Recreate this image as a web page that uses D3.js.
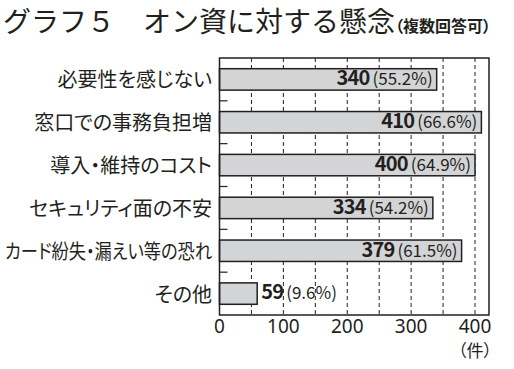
<!DOCTYPE html>
<html>
<head>
<meta charset="utf-8">
<script src="https://cdn.jsdelivr.net/npm/d3@7"></script>
<style>
  body { margin: 0; background: #fff; }
  svg text { font-family: "Noto Sans CJK JP", "Noto Sans", sans-serif; fill: #231f20; }
</style>
</head>
<body>
<svg id="chart" width="514" height="369"></svg>
<script>
// data
const categories = ['必要性を感じない', '窓口での事務負担増', '導入・維持のコスト', 'セキュリティ面の不安', 'カード紛失・漏えい等の恐れ', 'その他'];
const counts = [340, 410, 400, 334, 379, 59];
const percents = ['55.2%', '66.6%', '64.9%', '54.2%', '61.5%', '9.6%'];
const xTicks = [0, 100, 200, 300, 400];
const gridValues = [50, 100, 150, 200, 250, 300, 350, 400];

const svg = d3.select('#chart');
const ink = '#231f20';

const plotLeft = 219.5, plotRight = 489, plotTop = 58, plotBottom = 315;
const labelRight = 212, labelMaxWidth = 207;

const x = d3.scaleLinear().domain([0, 400]).range([plotLeft, 475]);
const y = d3.scaleBand().domain(categories).range([plotTop, plotBottom]).paddingInner(0.5).paddingOuter(0.25);
const band = d3.scaleBand().domain(categories).range([plotTop, plotBottom]);

// title
const title = svg.append('text')
    .attr('x', 3)
    .attr('y', 32)
    .style('font-size', '28px')
    .style('font-weight', 400);
title.append('tspan').text('グラフ５　オン資に対する懸念');
title.append('tspan').text('（複数回答可）')
    .style('font-size', '16px')
    .style('font-weight', 700)
    .style('font-feature-settings', '"palt"');

// dashed grid
svg.append('g')
    .selectAll('line')
    .data(gridValues)
    .enter().append('line')
    .attr('x1', d => x(d)).attr('x2', d => x(d))
    .attr('y1', plotTop).attr('y2', plotBottom)
    .attr('stroke', ink)
    .attr('stroke-width', 1)
    .attr('stroke-dasharray', '4,3');

// small ticks between categories on left axis
svg.append('g')
    .selectAll('line')
    .data(categories.slice(1))
    .enter().append('line')
    .attr('x1', plotLeft).attr('x2', plotLeft + 8)
    .attr('y1', d => band(d)).attr('y2', d => band(d))
    .attr('stroke', ink)
    .attr('stroke-width', 1.2);

// bars
svg.append('g')
    .selectAll('rect')
    .data(counts)
    .enter().append('rect')
    .attr('x', plotLeft)
    .attr('y', (d, i) => y(categories[i]))
    .attr('width', d => x(d) - plotLeft)
    .attr('height', y.bandwidth())
    .attr('fill', '#d3d4d5')
    .attr('stroke', ink)
    .attr('stroke-width', 1.5);

// frame
svg.append('rect')
    .attr('x', plotLeft).attr('y', plotTop)
    .attr('width', plotRight - plotLeft).attr('height', plotBottom - plotTop)
    .attr('fill', 'none')
    .attr('stroke', ink)
    .attr('stroke-width', 1.5);

// category labels
svg.append('g')
    .selectAll('text')
    .data(categories)
    .enter().append('text')
    .attr('x', labelRight)
    .attr('y', d => band(d) + band.bandwidth() / 2)
    .attr('dy', '0.4em')
    .attr('text-anchor', 'end')
    .style('font-size', '20px')
    .style('font-feature-settings', '"palt"')
    .text(d => d)
    .each(function() {
        // squeeze the long one so it fits like the original
        if (this.getComputedTextLength() > labelMaxWidth) {
            d3.select(this)
                .attr('textLength', labelMaxWidth)
                .attr('lengthAdjust', 'spacingAndGlyphs');
        }
    });

// value labels
const vl = svg.append('g')
    .selectAll('text')
    .data(counts)
    .enter().append('text')
    .attr('x', d => d < 100 ? x(d) + 4 : x(d) - 4)
    .attr('y', (d, i) => band(categories[i]) + band.bandwidth() / 2)
    .attr('dy', '0.36em')
    .attr('text-anchor', d => d < 100 ? 'start' : 'end');
vl.append('tspan')
    .text(d => d)
    .style('font-size', '20px')
    .style('font-weight', 700)
    .style('letter-spacing', '-0.8px');
vl.append('tspan')
    .text((d, i) => '(' + percents[i] + ')')
    .style('font-size', '17px')
    .attr('dx', 3);

// x axis labels
svg.append('g')
    .selectAll('text')
    .data(xTicks)
    .enter().append('text')
    .attr('x', d => x(d))
    .attr('y', 333)
    .attr('text-anchor', 'middle')
    .style('font-family', '"Noto Sans", sans-serif')
    .style('font-size', '19px')
    .text(d => d);

svg.append('text')
    .attr('x', 492)
    .attr('y', 357)
    .attr('text-anchor', 'end')
    .style('font-size', '17px')
    .style('font-feature-settings', '"palt"')
    .text('（件）');
</script>
</body>
</html>
